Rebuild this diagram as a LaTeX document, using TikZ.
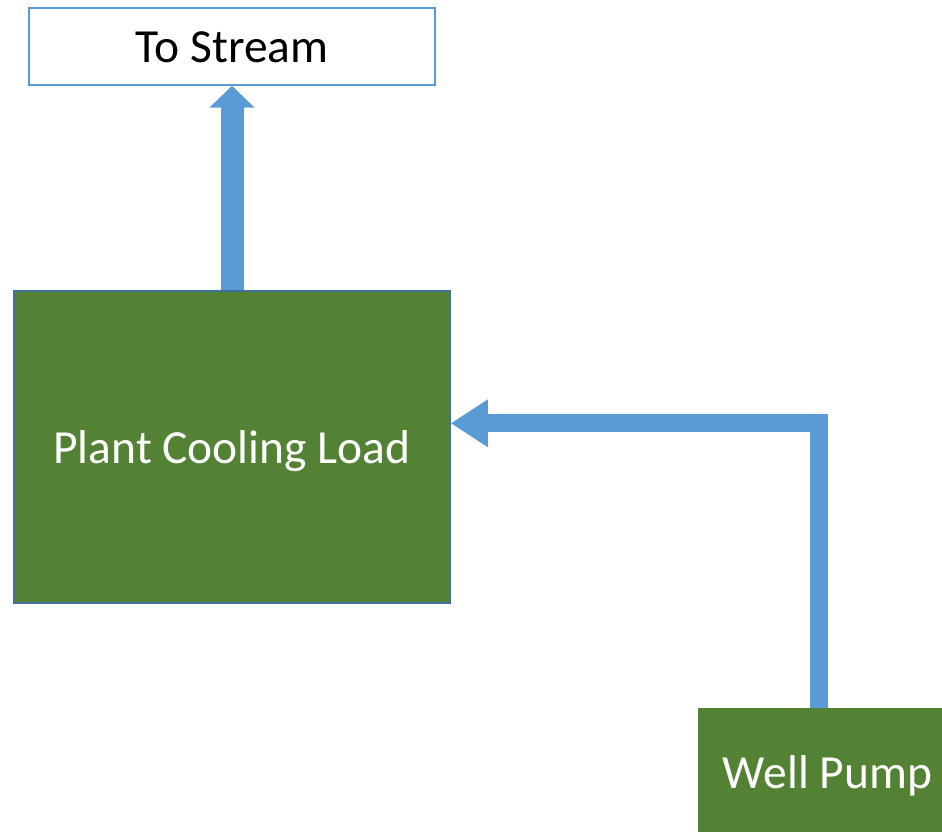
\documentclass[tikz,border=0pt]{standalone}
\usepackage{fontspec}
\setmainfont{Carlito}
\usetikzlibrary{arrows.meta}
\definecolor{flowblue}{HTML}{5B9BD5}
\definecolor{edgeblue}{HTML}{41719C}
\definecolor{plantgreen}{HTML}{548235}
\tikzset{
  box/.style={rectangle, inner sep=0pt, font=\fontsize{47.5}{57}\selectfont,
    text height=36pt, text depth=4pt},
  outbox/.style={box, draw=flowblue, line width=1.5pt, fill=white, text=black},
  greenbox/.style={box, fill=plantgreen, text=white},
  flow/.style={draw=flowblue, line join=miter},
}
\begin{document}
\begin{tikzpicture}[x=1pt, y=-1pt]
  \useasboundingbox (0,0) rectangle (942,832);
  \begin{scope}
    \clip (0,0) rectangle (942,832);
    % boxes
    \node[outbox, minimum width=406pt, minimum height=77pt] (stream) at (232,46.5) {To Stream};
    \node[greenbox, draw=edgeblue, line width=1.5pt, minimum width=436pt, minimum height=312pt] (plant) at (232,447) {Plant Cooling Load};
    \node[greenbox, minimum width=259pt, minimum height=128pt] (pump) at (827.5,772) {Well Pump};
    % connectors
    \coordinate (bend) at (819,423.3);
    \draw[flow, line width=23pt, -{Triangle[width=44pt,length=22pt]}] (plant.north) -- (stream.south);
    \draw[flow, line width=18pt, -{Triangle[width=45pt,length=37pt]}] (bend |- pump.north) -- (bend) -- (bend -| plant.east);
  \end{scope}
\end{tikzpicture}
\end{document}
